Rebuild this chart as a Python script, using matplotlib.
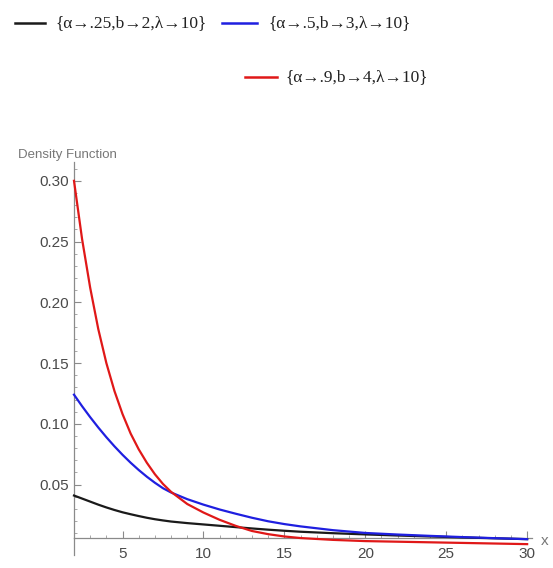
import matplotlib.pyplot as plt
import matplotlib as mpl
from matplotlib.lines import Line2D
from matplotlib.ticker import MultipleLocator, FormatStrFormatter

# values
x_vals = [2, 2.5, 3, 3.5, 4, 4.5, 5, 5.5, 6, 6.5, 7, 7.5, 8, 9, 10, 11, 12, 13, 14, 15, 16,
          18, 20, 22, 24, 26, 28, 30]
black_y = [0.041, 0.0385, 0.036, 0.0335, 0.0312, 0.0291, 0.0272, 0.0256, 0.0241, 0.0227, 0.0215,
           0.0205, 0.0196, 0.0183, 0.0172, 0.0161, 0.015, 0.0139, 0.0129, 0.012, 0.0112,
           0.0100, 0.009, 0.0081, 0.0073, 0.0065, 0.0058, 0.0051]
blue_y = [0.124, 0.1145, 0.1055, 0.097, 0.089, 0.0815, 0.0745, 0.068, 0.062, 0.0565, 0.0515,
          0.047, 0.0435, 0.038, 0.0335, 0.0295, 0.026, 0.0227, 0.0198, 0.0175, 0.0156,
          0.0125, 0.0102, 0.0089, 0.0078, 0.0068, 0.0059, 0.0051]
red_y = [0.300, 0.252, 0.212, 0.178, 0.150, 0.127, 0.108, 0.092, 0.079, 0.068, 0.0585,
         0.0505, 0.044, 0.034, 0.027, 0.021, 0.016, 0.0118, 0.0092, 0.0073, 0.006,
         0.0045, 0.0035, 0.003, 0.0025, 0.002, 0.0015, 0.001]
labels = ['{α→.25,b→2,λ→10}', '{α→.5,b→3,λ→10}', '{α→.9,b→4,λ→10}']
colors = ['#1a1a1a', '#1f1fe0', '#e01818']
y_ticks = [0.05, 0.10, 0.15, 0.20, 0.25, 0.30]
x_ticks = [5, 10, 15, 20, 25, 30]

mpl.rcParams['font.family'] = ['Liberation Sans', 'DejaVu Sans']

W, H = 553, 568
fig = plt.figure(figsize=(W / 100, H / 100), dpi=100)
ax = fig.add_axes([74 / W, (H - 538.3) / H, 458 / W, (538.3 - 162) / H])

for ys, c in zip([black_y, blue_y, red_y], colors):
    ax.plot(x_vals, ys, color=c, lw=1.6, clip_on=False, zorder=3)

ax.set_xlim(2, 30.3)
ax.set_ylim(0.0058, 0.3155)

for s in ['top', 'right']:
    ax.spines[s].set_visible(False)
for s in ['left', 'bottom']:
    ax.spines[s].set_color('#8a8a8a')
    ax.spines[s].set_linewidth(0.9)
# y axis pokes a little below the x axis
ax.plot([0, 0], [-0.045, 0], transform=ax.transAxes, color='#8a8a8a',
        lw=0.9, clip_on=False)

ax.set_xticks(x_ticks)
ax.set_yticks(y_ticks)
ax.yaxis.set_major_formatter(FormatStrFormatter('%.2f'))
ax.xaxis.set_minor_locator(MultipleLocator(1))
ax.yaxis.set_minor_locator(MultipleLocator(0.01))
ax.tick_params(which='major', direction='in', length=5, width=0.8,
               color='#8a8a8a', labelcolor='#4a4a4a', labelsize=11)
ax.tick_params(which='minor', direction='in', length=2.5, width=0.6,
               color='#9a9a9a')
ax.tick_params(axis='x', pad=6)

fig.text(545 / W, 1 - 541 / H, 'x', color='#777777', fontsize=11,
         ha='center', va='center')
fig.text(18 / W, 1 - 155 / H, 'Density Function', color='#777777',
         fontsize=9.5, ha='left', va='center')

# legend drawn in figure pixels
entries = [((15, 45), 23, 55), ((222, 257), 23, 268), ((245, 277), 77, 285)]
for (x0, x1), yy, tx, lab, c in zip([e[0] for e in entries], [e[1] for e in entries],
                                    [e[2] for e in entries], labels, colors):
    fig.add_artist(Line2D([x0 / W, x1 / W], [1 - yy / H, 1 - yy / H],
                          color=c, lw=1.8, transform=fig.transFigure))
    fig.text(tx / W, 1 - yy / H, lab, family=['Liberation Serif', 'DejaVu Serif'],
             fontsize=12.5, color='#222222', ha='left', va='center')

fig.savefig('out.png', dpi=100)
